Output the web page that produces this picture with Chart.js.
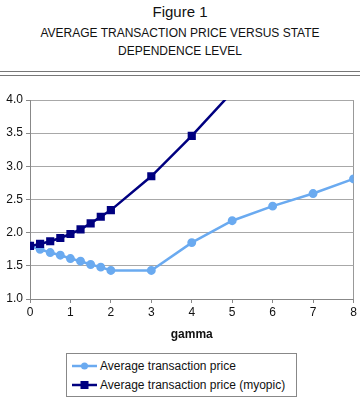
<!DOCTYPE html>
<html><head><meta charset="utf-8">
<script src="https://cdn.jsdelivr.net/npm/chart.js@4"></script>
<style>
html,body{margin:0;padding:0;background:#fff;}
body{width:360px;height:412px;position:relative;overflow:hidden;font-family:"Liberation Sans",Arial,sans-serif;color:#111;}
#t1{position:absolute;top:3px;left:0;width:360px;text-align:center;font-size:15px;}
#t2{position:absolute;top:24px;left:0;width:360px;text-align:center;font-size:12px;line-height:18px;}
#rule1{position:absolute;top:71px;left:0;width:360px;height:0;border-top:1.5px solid #777;}
#rule2{position:absolute;top:75px;left:0;width:360px;height:0;border-top:1.5px solid #777;}
#wrap{position:absolute;top:80px;left:0;width:360px;height:262px;}
#legend{position:absolute;left:66px;top:353px;width:231px;height:44px;border:1px solid #888;box-sizing:border-box;font-size:12px;}
.li{position:absolute;left:5px;height:16px;display:flex;align-items:center;white-space:nowrap;}
.li svg{margin-right:3px;}
</style></head><body>
<div id="t1">Figure 1</div>
<div id="t2">AVERAGE TRANSACTION PRICE VERSUS STATE<br>DEPENDENCE LEVEL</div>
<div id="rule1"></div><div id="rule2"></div>
<div id="wrap"><canvas id="c"></canvas></div>
<div id="legend">
 <div class="li" style="top:4px"><svg width="25" height="10"><line x1="0" y1="5" x2="25" y2="5" stroke="#6aaaf0" stroke-width="2.5"/><circle cx="12.5" cy="5" r="3.5" fill="#6aaaf0"/></svg><span>Average transaction price</span></div>
 <div class="li" style="top:23px"><svg width="25" height="10"><line x1="0" y1="5" x2="25" y2="5" stroke="#000080" stroke-width="2.5"/><rect x="8.5" y="1" width="8" height="8" fill="#000080"/></svg><span>Average transaction price (myopic)</span></div>
</div>
<script>
const gamma = [0,0.25,0.5,0.75,1,1.25,1.5,1.75,2,3,4,5,6,7,8];
const avgPrice = [1.80,1.75,1.70,1.66,1.61,1.57,1.52,1.48,1.43,1.43,1.85,2.18,2.40,2.59,2.81];
const gammaMyopic = [0,0.25,0.5,0.75,1,1.25,1.5,1.75,2,3,4,5];
const avgPriceMyopic = [1.80,1.83,1.87,1.92,1.98,2.05,2.14,2.24,2.34,2.85,3.46,4.12];
const xTicks = [0,1,2,3,4,5,6,7,8];
const yTicks = [1.0,1.5,2.0,2.5,3.0,3.5,4.0];

const toXY = (xs, ys) => xs.map((x,i)=>({x:x,y:ys[i]}));

new Chart(document.getElementById('c'), {
  type:'line',
  data:{datasets:[
    {label:'Average transaction price (myopic)', data:toXY(gammaMyopic,avgPriceMyopic), borderColor:'#000080', backgroundColor:'#000080', borderWidth:2.5, pointStyle:'rect', pointRadius:4, pointHoverRadius:4, tension:0},
    {label:'Average transaction price', data:toXY(gamma,avgPrice), borderColor:'#6aaaf0', backgroundColor:'#6aaaf0', borderWidth:2.5, pointStyle:'circle', pointRadius:3.2, pointHoverRadius:3.2, tension:0}
  ]},
  options:{
    responsive:true, maintainAspectRatio:false, animation:false,
    layout:{padding:{left:0,right:6,top:20,bottom:0}},
    plugins:{legend:{display:false}, tooltip:{enabled:false}},
    scales:{
      x:{type:'linear', min:0, max:8,
        afterBuildTicks: s => { s.ticks = xTicks.map(v=>({value:v})); },
        ticks:{color:'#111', font:{family:'Liberation Sans', size:12}, padding:2},
        grid:{drawOnChartArea:true, color: c => (c.tick && c.tick.value===8) ? '#999' : 'rgba(0,0,0,0)', tickColor:'#888', tickLength:4},
        border:{color:'#888', width:1},
        title:{display:true, text:'gamma', color:'#111', font:{family:'Liberation Sans', size:12, weight:'bold'}, padding:{top:2,bottom:0}},
        afterFit: s => { s.height = 43; }
      },
      y:{min:1, max:4,
        afterBuildTicks: s => { s.ticks = yTicks.map(v=>({value:v})); },
        ticks:{color:'#111', font:{family:'Liberation Sans', size:12}, padding:3, callback:v=>Number(v).toFixed(1)},
        grid:{color:'#a8a8a8', tickColor:'#888', tickLength:4},
        border:{color:'#888', width:1},
        afterFit: s => { s.width = 30; }
      }
    }
  }
});
</script>
</body></html>
